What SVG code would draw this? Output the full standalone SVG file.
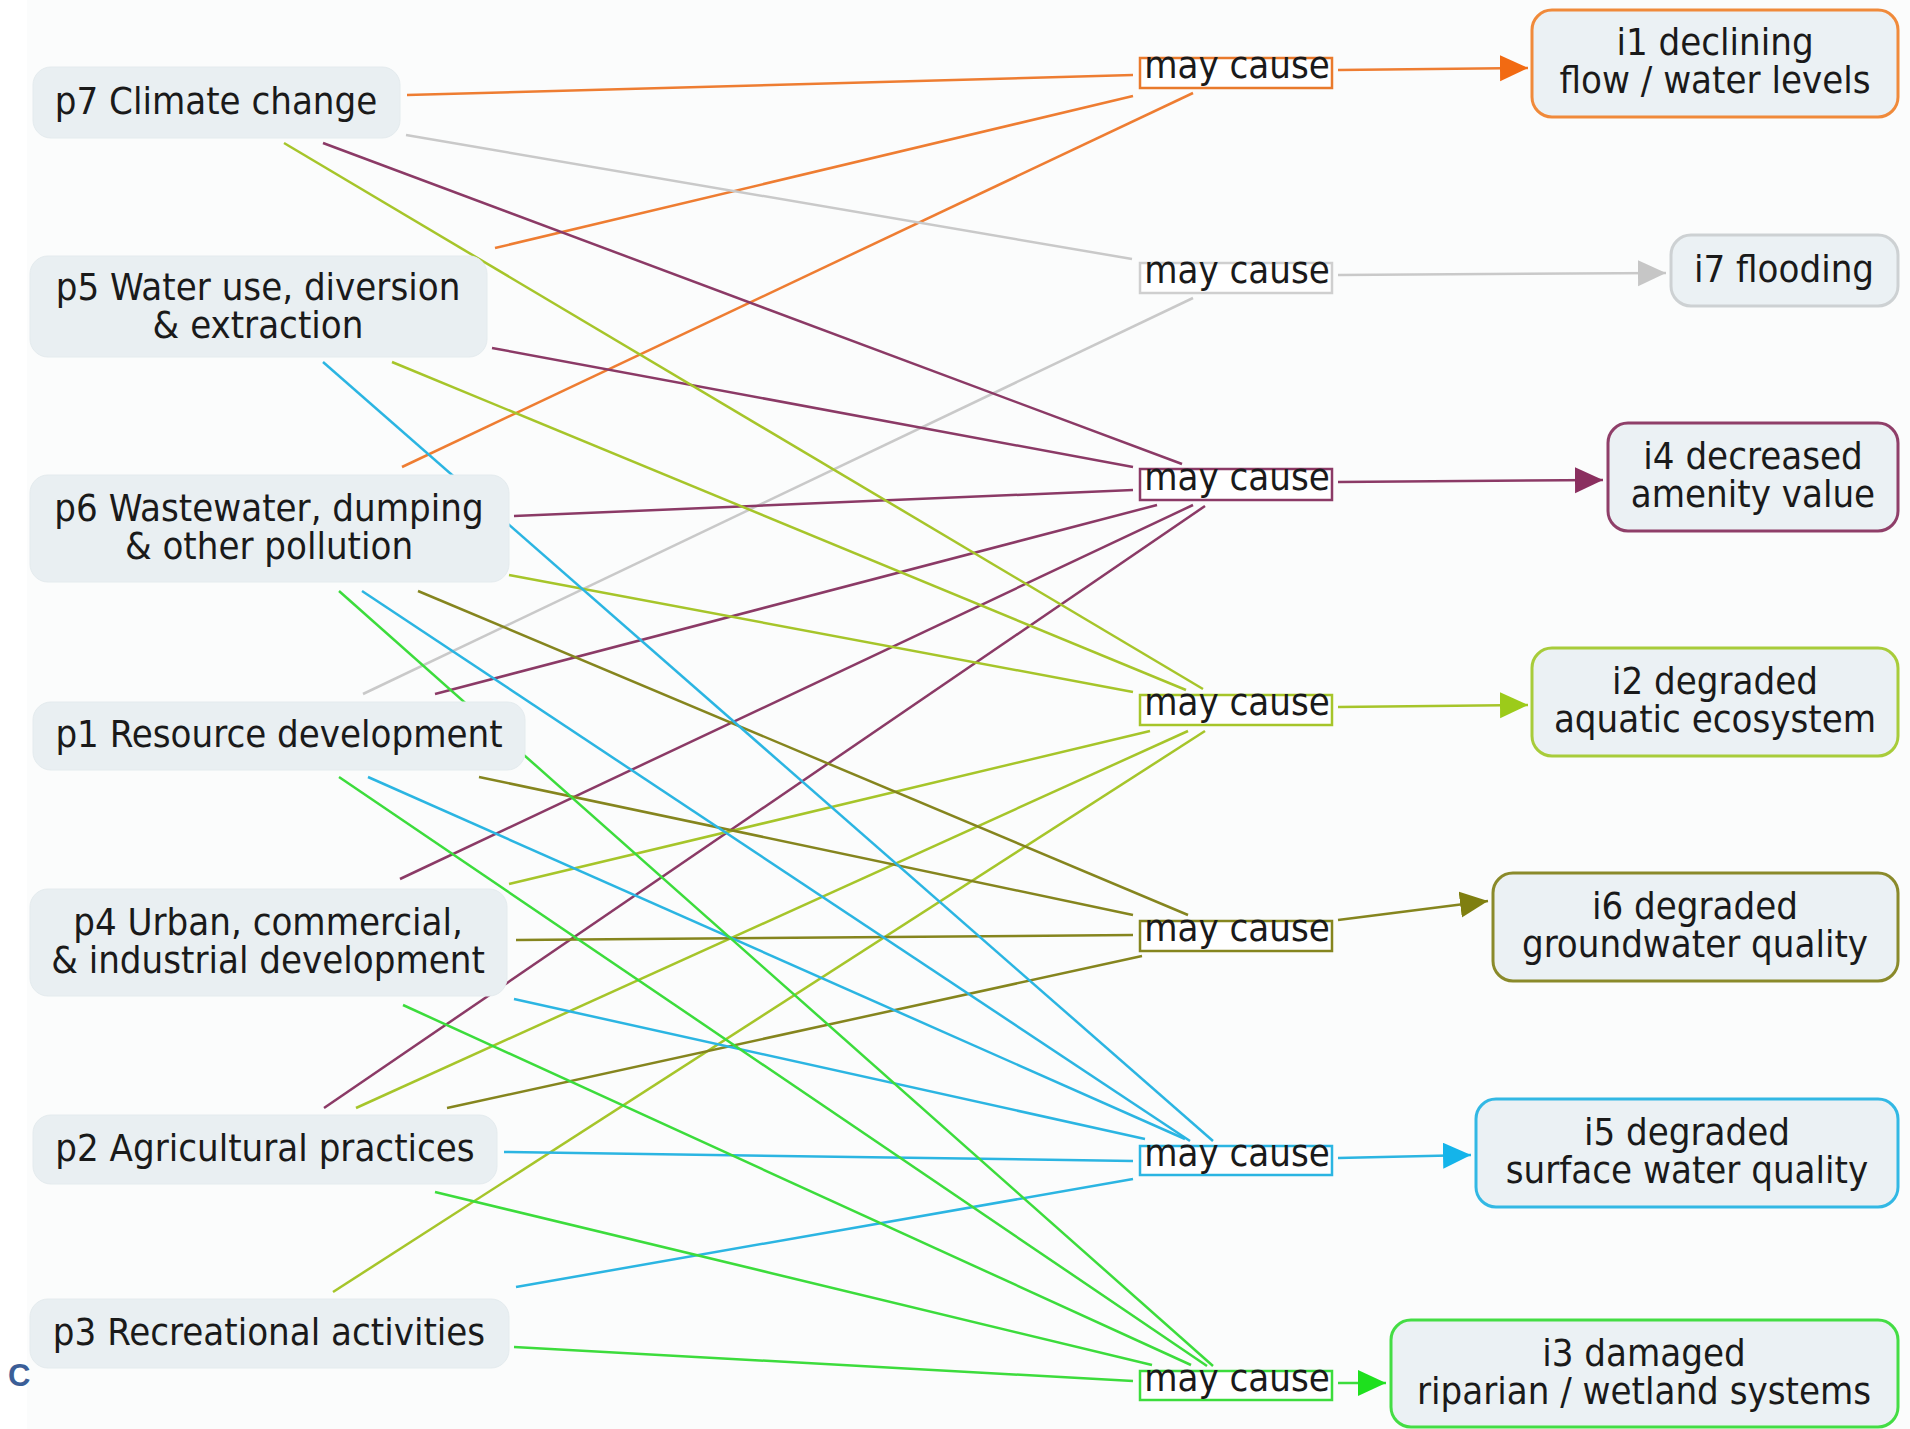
<svg xmlns="http://www.w3.org/2000/svg" width="1910" height="1429" viewBox="0 0 1910 1429">
<defs>
<style>
.bg{fill:#fbfcfc}
.pn{fill:#e9eff2;stroke:#e4ebee;stroke-width:1}
.in{fill:#ebf1f4;stroke-width:3}
.mc{fill:#ffffff;stroke-width:2.5}
.t{font-family:"DejaVu Sans Condensed","DejaVu Sans",sans-serif;font-stretch:condensed;font-size:38px;fill:#1a1a1a;text-anchor:middle}
.c line{stroke-width:2.5;fill:none}
.or{stroke:#ee7d32}.gr{stroke:#c9c9c9}.pu{stroke:#8b3a66}.yg{stroke:#a6c52a}.ol{stroke:#85851e}.cy{stroke:#2bb5e2}.gn{stroke:#3cdc3c}
</style>
<marker id="mor" markerUnits="userSpaceOnUse" markerWidth="28" markerHeight="28" refX="28" refY="13" orient="auto"><path d="M0,0L28,13L0,26z" fill="#f26a12"/></marker>
<marker id="mgr" markerUnits="userSpaceOnUse" markerWidth="28" markerHeight="28" refX="28" refY="13" orient="auto"><path d="M0,0L28,13L0,26z" fill="#c6c6c6"/></marker>
<marker id="mpu" markerUnits="userSpaceOnUse" markerWidth="28" markerHeight="28" refX="28" refY="13" orient="auto"><path d="M0,0L28,13L0,26z" fill="#8a2f5f"/></marker>
<marker id="myg" markerUnits="userSpaceOnUse" markerWidth="28" markerHeight="28" refX="28" refY="13" orient="auto"><path d="M0,0L28,13L0,26z" fill="#9ccb1a"/></marker>
<marker id="mol" markerUnits="userSpaceOnUse" markerWidth="28" markerHeight="28" refX="28" refY="13" orient="auto"><path d="M0,0L28,13L0,26z" fill="#7f7f10"/></marker>
<marker id="mcy" markerUnits="userSpaceOnUse" markerWidth="28" markerHeight="28" refX="28" refY="13" orient="auto"><path d="M0,0L28,13L0,26z" fill="#14b4ea"/></marker>
<marker id="mgn" markerUnits="userSpaceOnUse" markerWidth="28" markerHeight="28" refX="28" refY="13" orient="auto"><path d="M0,0L28,13L0,26z" fill="#1ee01e"/></marker>
</defs>
<rect x="0" y="0" width="1910" height="1429" fill="#ffffff"/>
<rect class="bg" x="27" y="0" width="1883" height="1429"/>

<g id="connectors" class="c">
<line class="or" x1="407" y1="95" x2="1133" y2="75"/>
<line class="or" x1="495" y1="248" x2="1133" y2="96"/>
<line class="or" x1="402" y1="467" x2="1193" y2="93"/>
<line class="gr" x1="406" y1="135" x2="1132" y2="259"/>
<line class="gr" x1="363" y1="694" x2="1193" y2="298"/>
<line class="pu" x1="323" y1="143" x2="1182" y2="464"/>
<line class="pu" x1="492" y1="348" x2="1133" y2="467"/>
<line class="pu" x1="514" y1="516" x2="1133" y2="490"/>
<line class="pu" x1="435" y1="694" x2="1157" y2="505"/>
<line class="pu" x1="400" y1="879" x2="1193" y2="505"/>
<line class="pu" x1="324" y1="1108" x2="1205" y2="506"/>
<line class="yg" x1="284" y1="143" x2="1203" y2="689"/>
<line class="yg" x1="392" y1="362" x2="1186" y2="690"/>
<line class="yg" x1="509" y1="575" x2="1133" y2="692"/>
<line class="yg" x1="509" y1="884" x2="1150" y2="731"/>
<line class="yg" x1="356" y1="1108" x2="1188" y2="731"/>
<line class="yg" x1="333" y1="1292" x2="1205" y2="731"/>
<line class="ol" x1="418" y1="591" x2="1188" y2="915"/>
<line class="ol" x1="479" y1="777" x2="1133" y2="915"/>
<line class="ol" x1="516" y1="940" x2="1133" y2="935"/>
<line class="ol" x1="447" y1="1108" x2="1142" y2="956"/>
<line class="cy" x1="323" y1="362" x2="1213" y2="1141"/>
<line class="cy" x1="362" y1="591" x2="1190" y2="1141"/>
<line class="cy" x1="368" y1="777" x2="1185" y2="1139"/>
<line class="cy" x1="514" y1="999" x2="1145" y2="1139"/>
<line class="cy" x1="504" y1="1152" x2="1133" y2="1161"/>
<line class="cy" x1="516" y1="1287" x2="1133" y2="1179"/>
<line class="gn" x1="339" y1="591" x2="1213" y2="1366"/>
<line class="gn" x1="339" y1="777" x2="1207" y2="1366"/>
<line class="gn" x1="403" y1="1005" x2="1191" y2="1365"/>
<line class="gn" x1="435" y1="1192" x2="1152" y2="1365"/>
<line class="gn" x1="514" y1="1347" x2="1133" y2="1381"/>
<line class="or" x1="1338" y1="70" x2="1528" y2="68" marker-end="url(#mor)"/>
<line class="gr" x1="1338" y1="275" x2="1666" y2="273" marker-end="url(#mgr)"/>
<line class="pu" x1="1338" y1="482" x2="1603" y2="480" marker-end="url(#mpu)"/>
<line class="yg" x1="1338" y1="707" x2="1528" y2="705" marker-end="url(#myg)"/>
<line class="ol" x1="1338" y1="920" x2="1488" y2="901" marker-end="url(#mol)"/>
<line class="cy" x1="1338" y1="1158" x2="1471" y2="1155" marker-end="url(#mcy)"/>
<line class="gn" x1="1338" y1="1383" x2="1386" y2="1383" marker-end="url(#mgn)"/>
</g>

<g id="p7"><rect class="pn" x="33" y="67" width="367" height="71" rx="18"/><text class="t" x="216" y="114">p7 Climate change</text></g>
<g id="p5"><rect class="pn" x="30" y="256" width="457" height="101" rx="18"/><text class="t" x="258" y="300">p5 Water use, diversion</text><text class="t" x="258" y="338">&amp; extraction</text></g>
<g id="p6"><rect class="pn" x="30" y="475" width="479" height="107" rx="18"/><text class="t" x="269" y="521">p6 Wastewater, dumping</text><text class="t" x="269" y="559">&amp; other pollution</text></g>
<g id="p1"><rect class="pn" x="33" y="702" width="492" height="68" rx="18"/><text class="t" x="279" y="747">p1 Resource development</text></g>
<g id="p4"><rect class="pn" x="30" y="889" width="477" height="107" rx="18"/><text class="t" x="268" y="935">p4 Urban, commercial,</text><text class="t" x="268" y="973">&amp; industrial development</text></g>
<g id="p2"><rect class="pn" x="33" y="1115" width="464" height="69" rx="18"/><text class="t" x="265" y="1161">p2 Agricultural practices</text></g>
<g id="p3"><rect class="pn" x="30" y="1299" width="479" height="69" rx="18"/><text class="t" x="269" y="1345">p3 Recreational activities</text></g>

<g id="mc1"><rect class="mc" x="1140" y="58" width="192" height="30" stroke="#e97a2c"/><text class="t" x="1237" y="78">may cause</text></g>
<g id="mc7"><rect class="mc" x="1140" y="263" width="192" height="30" stroke="#cfcfcf"/><text class="t" x="1237" y="283">may cause</text></g>
<g id="mc4"><rect class="mc" x="1140" y="469" width="192" height="31" stroke="#8b3a66"/><text class="t" x="1237" y="490">may cause</text></g>
<g id="mc2"><rect class="mc" x="1140" y="695" width="192" height="30" stroke="#a6c52a"/><text class="t" x="1237" y="715">may cause</text></g>
<g id="mc6"><rect class="mc" x="1140" y="921" width="192" height="30" stroke="#85851e"/><text class="t" x="1237" y="941">may cause</text></g>
<g id="mc5"><rect class="mc" x="1140" y="1146" width="192" height="29" stroke="#2bb5e2"/><text class="t" x="1237" y="1166">may cause</text></g>
<g id="mc3"><rect class="mc" x="1140" y="1371" width="192" height="29" stroke="#3cdc3c"/><text class="t" x="1237" y="1391">may cause</text></g>

<g id="i1"><rect class="in" x="1532" y="10" width="366" height="107" rx="20" stroke="#f08a3a"/><text class="t" x="1715" y="55">i1 declining</text><text class="t" x="1715" y="93">flow / water levels</text></g>
<g id="i7"><rect class="in" x="1671" y="235" width="227" height="71" rx="20" stroke="#cdd1d3"/><text class="t" x="1784" y="282">i7 flooding</text></g>
<g id="i4"><rect class="in" x="1608" y="423" width="290" height="108" rx="20" stroke="#8f3f69"/><text class="t" x="1753" y="469">i4 decreased</text><text class="t" x="1753" y="507">amenity value</text></g>
<g id="i2"><rect class="in" x="1532" y="648" width="366" height="108" rx="20" stroke="#a8cc3a"/><text class="t" x="1715" y="694">i2 degraded</text><text class="t" x="1715" y="732">aquatic ecosystem</text></g>
<g id="i6"><rect class="in" x="1493" y="873" width="405" height="108" rx="20" stroke="#8a8a2a"/><text class="t" x="1695" y="919">i6 degraded</text><text class="t" x="1695" y="957">groundwater quality</text></g>
<g id="i5"><rect class="in" x="1476" y="1099" width="422" height="108" rx="20" stroke="#32b8e4"/><text class="t" x="1687" y="1145">i5 degraded</text><text class="t" x="1687" y="1183">surface water quality</text></g>
<g id="i3"><rect class="in" x="1391" y="1320" width="507" height="107" rx="20" stroke="#44dd44"/><text class="t" x="1644" y="1366">i3 damaged</text><text class="t" x="1644" y="1404">riparian / wetland systems</text></g>

<text x="8" y="1386" font-family="Liberation Sans, Arial, sans-serif" font-weight="bold" font-size="31" fill="#3b5e97">C</text>
</svg>
